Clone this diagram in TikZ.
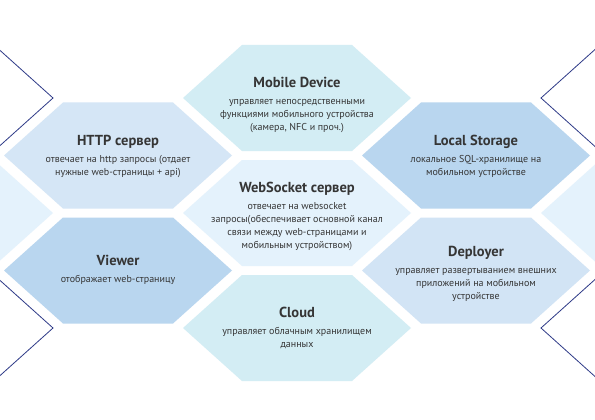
\documentclass[tikz,border=0pt]{standalone}
\usepackage{fontspec}
\setmainfont{PT Sans}

\definecolor{hexcyan}{HTML}{D3EDF4}
\definecolor{hexsky}{HTML}{D5E6F6}
\definecolor{hexmid}{HTML}{B9D6EF}
\definecolor{hexpale}{HTML}{E4F2FC}
\definecolor{hexsoft}{HTML}{D2E4F5}
\definecolor{rimblue}{HTML}{2E3A87}
\definecolor{inkgray}{HTML}{353535}

% one honeycomb cell, centre at (#2,#3)
\newcommand{\hexcell}[3]{%
  \path[#1] (#2,#3) ++(-114,0) -- ++(59,-53) -- ++(110,0) -- ++(59,53)
    -- ++(-59,53) -- ++(-110,0) -- cycle;}

\tikzset{
  rim/.style={draw=rimblue, line width=0.8pt},
  celltext/.style={align=center, text=inkgray,
    font=\fontsize{10}{13}\selectfont},
}
\newcommand{\celltitle}[1]{{\fontsize{14.5}{16}\selectfont\bfseries #1}\\[4pt]}

\begin{document}
\begin{tikzpicture}[x=1pt,y=-1pt]
\clip (0,0) rectangle (595,420);
\fill[white] (0,0) rectangle (595,420);

%cells at the edges
\hexcell{rim}{-61}{98}
\hexcell{fill=hexpale}{-61}{213}
\hexcell{rim}{-61}{328}
\hexcell{rim}{655}{98}
\hexcell{fill=hexpale}{655}{213}
\hexcell{rim}{655}{328}

%left column
\hexcell{fill=hexsky}{118}{155.5}
\hexcell{fill=hexmid}{118}{270.5}

%middle column
\hexcell{fill=hexcyan}{297}{98}
\hexcell{fill=hexpale}{297}{213}
\hexcell{fill=hexcyan}{297}{328}

%right column
\hexcell{fill=hexmid}{476}{155.5}
\hexcell{fill=hexsoft}{476}{270.5}

\node[celltext] (http) at (118,156) {\celltitle{HTTP сервер}
  отвечает на http запросы (отдает\\ нужные web-страницы + api)};
\node[celltext] (viewer) at (118,270) {\celltitle{Viewer}
  отображает web-страницу};

\node[celltext] (mobile) at (297,105) {\celltitle{Mobile Device}
  управляет непосредственными\\ функциями мобильного устройства\\
  (камера, NFC и проч.)};
\node[celltext] (websocket) at (297,216) {\celltitle{WebSocket сервер}
  отвечает на websocket\\ запросы(обеспечивает основной канал\\
  связи между web-страницами и\\ мобильным устройством)};
\node[celltext] (cloud) at (297,328) {\celltitle{Cloud}
  управляет облачным хранилищем\\ данных};

\node[celltext] (storage) at (476,156) {\celltitle{Local Storage}
  локальное SQL-хранилище на\\ мобильном устройстве};
\node[celltext] (deployer) at (476,274) {\celltitle{Deployer}
  управляет развертыванием внешних\\ приложений на мобильном\\ устройстве};

\end{tikzpicture}
\end{document}
